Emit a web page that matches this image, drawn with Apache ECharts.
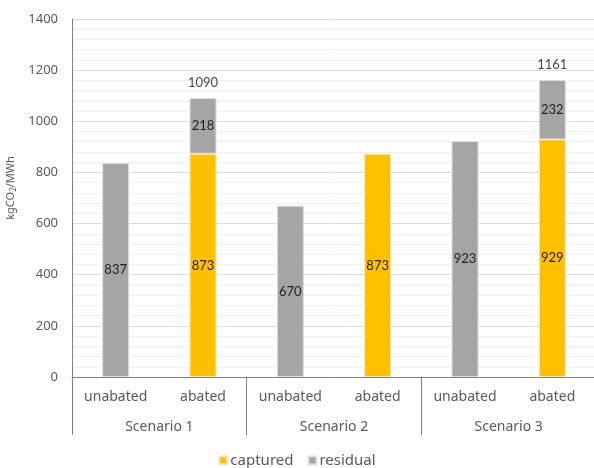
<!DOCTYPE html>
<html>
<head>
<meta charset="utf-8">
<script src="https://cdn.jsdelivr.net/npm/echarts@6/dist/echarts.min.js"></script>
<style>
  html, body { margin: 0; padding: 0; background: #fff; }
  #chart { width: 594px; height: 468px; }
</style>
</head>
<body>
<div id="chart"></div>
<script>
// Emission intensity per scenario, split into captured and residual CO2
const cases = ['unabated', 'abated', 'unabated', 'abated', 'unabated', 'abated'];
const scenarios = ['Scenario 1', 'Scenario 2', 'Scenario 3'];
const captured = [null, 873, null, 873, null, 929];
const residual = [837, 218, 670, null, 923, 232];
const totals = [null, 1090, null, null, null, 1161];
const yTicks = [0, 200, 400, 600, 800, 1000, 1200, 1400];

const axisFont = 'Noto Sans';
const labelFont = 'Lato';
const axisColor = '#595959';

const chart = echarts.init(document.getElementById('chart'));

const insideLabel = {
  show: true,
  position: 'inside',
  fontFamily: labelFont,
  fontSize: 13,
  color: '#1f1f1f',
  formatter: p => (p.value == null ? '' : String(p.value))
};

chart.setOption({
  animation: false,
  grid: { left: 72, top: 19, right: -2, bottom: 91, containLabel: false, outerBoundsMode: 'none' },
  legend: {
    data: ['captured', 'residual'],
    top: 448,
    left: 'center',
    itemWidth: 8,
    itemHeight: 8,
    itemGap: 14,
    icon: 'rect',
    textStyle: { fontFamily: axisFont, fontSize: 15, color: axisColor, padding: [0, 0, 0, -2] }
  },
  xAxis: [
    {
      type: 'category',
      data: cases,
      position: 'bottom',
      axisLine: { show: true, lineStyle: { color: '#808080', width: 1 } },
      axisTick: { show: false },
      axisLabel: { interval: 0, margin: 13, fontFamily: axisFont, fontSize: 14, color: axisColor },
      splitLine: { show: false }
    },
    {
      type: 'category',
      data: scenarios,
      position: 'bottom',
      axisLine: { show: false },
      axisTick: { show: true, length: 58, interval: 0, lineStyle: { color: '#808080', width: 1 } },
      axisLabel: { interval: 0, margin: 43, fontFamily: axisFont, fontSize: 14, color: axisColor },
      splitLine: { show: false }
    }
  ],
  yAxis: {
    type: 'value',
    min: yTicks[0],
    max: yTicks[yTicks.length - 1],
    interval: 200,
    name: 'kgCO{sub|2}/MWh',
    nameLocation: 'middle',
    nameGap: 54,
    nameRotate: 90,
    nameTextStyle: {
      fontFamily: axisFont,
      fontSize: 11,
      color: axisColor,
      padding: [0, 0, 0, 20],
      rich: {
        sub: { fontFamily: axisFont, fontSize: 8, color: axisColor, verticalAlign: 'bottom', padding: [4, 0, 0, 0] }
      }
    },
    axisLine: { show: true, lineStyle: { color: '#808080', width: 1 } },
    axisTick: { show: false },
    minorTick: { show: false, splitNumber: 5 },
    axisLabel: {
      margin: 14,
      fontFamily: axisFont,
      fontSize: 13,
      color: axisColor,
      formatter: v => String(v)
    },
    splitLine: { show: true, lineStyle: { color: '#dcdcdc', width: 1 } },
    minorSplitLine: { show: true, lineStyle: { color: '#f0f0f0', width: 1 } }
  },
  series: [
    {
      name: 'captured',
      type: 'bar',
      stack: 'total',
      barWidth: 27,
      data: captured,
      itemStyle: { color: '#FFC000', borderColor: '#f5e6b8', borderWidth: 1 },
      label: insideLabel
    },
    {
      name: 'residual',
      type: 'bar',
      stack: 'total',
      barWidth: 27,
      data: residual,
      itemStyle: { color: '#A5A5A5', borderColor: '#dedede', borderWidth: 1 },
      label: insideLabel
    },
    {
      name: 'total',
      type: 'scatter',
      data: totals,
      symbolSize: 1,
      itemStyle: { color: 'rgba(0,0,0,0)' },
      label: {
        show: true,
        position: 'top',
        distance: 8,
        fontFamily: labelFont,
        fontSize: 13,
        color: '#111',
        formatter: p => (p.value == null ? '' : String(p.value))
      },
      tooltip: { show: false }
    }
  ]
});
</script>
</body>
</html>
